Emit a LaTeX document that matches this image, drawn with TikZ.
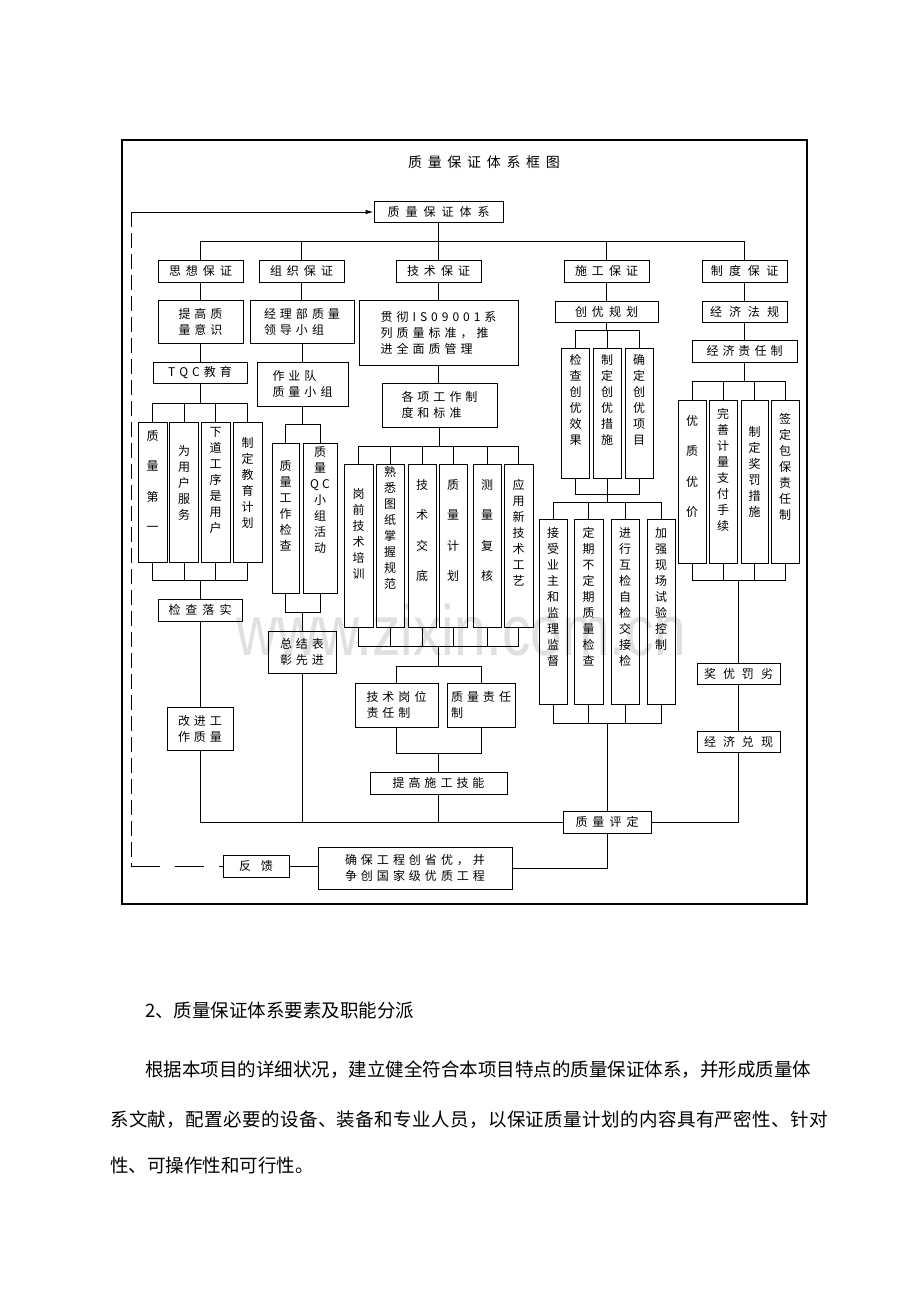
\documentclass[tikz,border=0pt]{standalone}
\usepackage{fontspec}
\newfontfamily\cjk{Noto Sans CJK SC}
\newfontfamily\wm{Liberation Sans}
\usetikzlibrary{arrows.meta}
\newlength\cjkgap
\makeatletter
\newcommand\spc[2][4pt]{{\setlength\cjkgap{#1}\spc@a#2\relax}}
\def\spc@a#1{#1\spc@b}
\def\spc@b#1{\ifx#1\relax\else\hspace{\cjkgap}#1\expandafter\spc@b\fi}
\makeatother
\tikzset{
  box/.style={draw, line width=0.9pt, inner sep=0pt, font=\cjk\fontsize{12}{16}\selectfont, align=center},
  lbox/.style={box, align=left},
  vbox/.style={draw, line width=0.9pt, inner sep=0pt},
  vtext/.style={font=\cjk\fontsize{12}{16}\selectfont, align=center, inner sep=0pt},
  wtext/.style={font=\cjk\fontsize{12}{30.5}\selectfont, align=center, inner sep=0pt},
  conn/.style={line width=0.9pt},
  ptext/.style={font=\cjk\fontsize{18.5}{20}\selectfont, anchor=west, inner sep=0pt},
}
\begin{document}
\begin{tikzpicture}[x=1pt, y=-1pt]
\useasboundingbox (0,0) rectangle (920,1302);
\fill[white] (0,0) rectangle (920,1302);
% watermark
\node[font=\wm\fontsize{57}{60}\selectfont, text=black!12, yscale=1.25, transform shape] (wmk) at (461,630) {www.zixin.com.cn};
% frame
\draw[line width=1.8pt] (122,140) rectangle (807,904);
\node[font=\cjk\fontsize{14}{16}\selectfont, inner sep=0pt] (title) at (484,162) {\spc[5.7pt]{质量保证体系框图}};
% top
\node[box, minimum width=129pt, minimum height=21pt] (top) at (438.5,211.5) {\spc[6pt]{质量保证体系}};
% level 2
\node[box, minimum width=85pt, minimum height=22pt] (sx) at (200.5,271) {\spc[5pt]{思想保证}};
\node[box, minimum width=85pt, minimum height=22pt] (zz) at (301.5,271) {\spc[5pt]{组织保证}};
\node[box, minimum width=85pt, minimum height=22pt] (js) at (438.5,271) {\spc[5pt]{技术保证}};
\node[box, minimum width=85pt, minimum height=22pt] (sg) at (606.5,271) {\spc[5pt]{施工保证}};
\node[box, minimum width=85pt, minimum height=22pt] (zd) at (744.5,271) {\spc[6.5pt]{制度保证}};
% level 3
\node[lbox, minimum width=85pt, minimum height=43pt] (tgzl) at (200.5,321.5) {\spc{提高质}\\\spc{量意识}};
\node[lbox, minimum width=104pt, minimum height=43pt] (jlb) at (302,321.5) {\spc{经理部质量}\\\spc{领导小组}};
\node[lbox, minimum width=159pt, minimum height=65pt] (gc) at (438.5,332.5) {\spc{贯彻IS09001系}\\\spc{列质量标准，推}\\\spc{进全面质管理}};
\node[box, minimum width=103pt, minimum height=21pt] (cygh) at (606.5,311.5) {\spc[5pt]{创优规划}};
\node[box, minimum width=85pt, minimum height=21pt] (jjfg) at (744.5,311.5) {\spc[7pt]{经济法规}};
\node[box, minimum width=94pt, minimum height=21pt] (tqc) at (200,372.5) {\spc{TQC教育}};
\node[lbox, minimum width=91pt, minimum height=44pt] (zyd) at (302.5,384) {\spc{作业队}\\\spc{质量小组}};
\node[box, minimum width=105pt, minimum height=22pt] (jjzr) at (744.5,351) {\spc{经济责任制}};
\node[lbox, minimum width=115pt, minimum height=44pt] (gx) at (439.5,405) {\spc{各项工作制}\\\spc{度和标准}};
% 创优 three
\node[vbox, minimum width=28pt, minimum height=130pt] (cy1) at (575.5,413) {};
\node[vbox, minimum width=28pt, minimum height=130pt] (cy2) at (607,413) {};
\node[vbox, minimum width=28pt, minimum height=130pt] (cy3) at (639,413) {};
\node[vtext] (cy1t) at ([yshift=13pt]cy1.center) {检\\查\\创\\优\\效\\果};
\node[vtext] (cy2t) at ([yshift=13pt]cy2.center) {制\\定\\创\\优\\措\\施};
\node[vtext] (cy3t) at ([yshift=13pt]cy3.center) {确\\定\\创\\优\\项\\目};
% left four
\node[vbox, minimum width=29pt, minimum height=140pt] (l1) at (152.5,492) {};
\node[vbox, minimum width=29pt, minimum height=140pt] (l2) at (184,492) {};
\node[vbox, minimum width=29pt, minimum height=140pt] (l3) at (215.5,492) {};
\node[vbox, minimum width=29pt, minimum height=140pt] (l4) at (247.5,492) {};
\node[wtext] (l1t) at ([yshift=11pt]l1.center) {质\\量\\第\\一};
\node[vtext] (l2t) at ([yshift=9pt]l2.center) {为\\用\\户\\服\\务};
\node[vtext] (l3t) at ([yshift=12pt]l3.center) {下\\道\\工\\序\\是\\用\\户};
\node[vtext] (l4t) at ([yshift=9pt]l4.center) {制\\定\\教\\育\\计\\划};
% org two
\node[vbox, minimum width=27pt, minimum height=150pt] (q1) at (285.5,518) {};
\node[vbox, minimum width=34pt, minimum height=150pt] (q2) at (320,518) {};
\node[vtext] (q1t) at ([yshift=12pt]q1.center) {质\\量\\工\\作\\检\\查};
\node[vtext] (q2t) at ([yshift=18pt]q2.center) {质\\量\\Q\hspace{3pt}C\\小\\组\\活\\动};
% tech six
\node[vbox, minimum width=29pt, minimum height=163pt] (t1) at (358.5,545.5) {};
\node[vbox, minimum width=28pt, minimum height=163pt] (t2) at (390,545.5) {};
\node[vbox, minimum width=28pt, minimum height=163pt] (t3) at (422,545.5) {};
\node[vbox, minimum width=28pt, minimum height=163pt] (t4) at (453,545.5) {};
\node[vbox, minimum width=28pt, minimum height=163pt] (t5) at (487,545.5) {};
\node[vbox, minimum width=29pt, minimum height=163pt] (t6) at (518.5,545.5) {};
\node[vtext] (t1t) at ([yshift=12pt]t1.center) {岗\\前\\技\\术\\培\\训};
\node[vtext] (t2t) at ([yshift=18pt]t2.center) {熟\\悉\\图\\纸\\掌\\握\\规\\范};
\node[wtext] (t3t) at ([yshift=15pt]t3.center) {技\\术\\交\\底};
\node[wtext] (t4t) at ([yshift=15pt]t4.center) {质\\量\\计\\划};
\node[wtext] (t5t) at ([yshift=15pt]t5.center) {测\\量\\复\\核};
\node[vtext] (t6t) at ([yshift=13pt]t6.center) {应\\用\\新\\技\\术\\工\\艺};
% construction four
\node[vbox, minimum width=28pt, minimum height=185pt] (s1) at (553,611.5) {};
\node[vbox, minimum width=29pt, minimum height=185pt] (s2) at (588.5,611.5) {};
\node[vbox, minimum width=28pt, minimum height=185pt] (s3) at (625,611.5) {};
\node[vbox, minimum width=28pt, minimum height=185pt] (s4) at (661,611.5) {};
\node[vtext, anchor=north] (s1t) at ([yshift=-9pt]s1.north) {接\\受\\业\\主\\和\\监\\理\\监\\督};
\node[vtext, anchor=north] (s2t) at ([yshift=-9pt]s2.north) {定\\期\\不\\定\\期\\质\\量\\检\\查};
\node[vtext, anchor=north] (s3t) at ([yshift=-9pt]s3.north) {进\\行\\互\\检\\自\\检\\交\\接\\检};
\node[vtext, anchor=north] (s4t) at ([yshift=-9pt]s4.north) {加\\强\\现\\场\\试\\验\\控\\制};
% system four
\node[vbox, minimum width=28pt, minimum height=163pt] (z1) at (692,481.5) {};
\node[vbox, minimum width=28pt, minimum height=163pt] (z2) at (723,481.5) {};
\node[vbox, minimum width=27pt, minimum height=163pt] (z3) at (754.5,481.5) {};
\node[vbox, minimum width=28pt, minimum height=163pt] (z4) at (785,481.5) {};
\node[wtext] (z1t) at ([yshift=15pt]z1.center) {优\\质\\优\\价};
\node[vtext] (z2t) at ([yshift=12pt]z2.center) {完\\善\\计\\量\\支\\付\\手\\续};
\node[vtext] (z3t) at ([yshift=10pt]z3.center) {制\\定\\奖\\罚\\措\\施};
\node[vtext] (z4t) at ([yshift=15pt]z4.center) {签\\定\\包\\保\\责\\任\\制};
% lower boxes
\node[box, minimum width=84pt, minimum height=22pt] (jcls) at (200,610) {\spc[5pt]{检查落实}};
\node[lbox, minimum width=68pt, minimum height=42pt] (zjbz) at (302,652) {\spc{总结表}\\\spc{彰先进}};
\node[lbox, minimum width=83pt, minimum height=44pt] (jsgw) at (396.5,705) {\spc{技术岗位}\\\spc{责任制}};
\node[lbox, minimum width=68pt, minimum height=44pt] (zlzr) at (481,705) {\spc{质量责任}\\\spc{制}};
\node[lbox, minimum width=66pt, minimum height=43pt] (gjgz) at (200,728.5) {\spc{改进工}\\\spc{作质量}};
\node[box, minimum width=83pt, minimum height=21pt] (jyfl) at (738.5,673.5) {\spc[7pt]{奖优罚劣}};
\node[box, minimum width=83pt, minimum height=21pt] (jjdx) at (738.5,741.5) {\spc[7pt]{经济兑现}};
\node[box, minimum width=137pt, minimum height=22pt] (tgsg) at (438.5,783) {\spc{提高施工技能}};
\node[box, minimum width=88pt, minimum height=22pt] (zlpd) at (607,822) {\spc[5pt]{质量评定}};
\node[box, minimum width=194pt, minimum height=42pt] (qbgc) at (415,868) {\spc{确保工程创省优，并}\\\spc{争创国家级优质工程}};
\node[box, minimum width=66pt, minimum height=22pt] (fk) at (256,866) {\spc[10pt]{反馈}};
% helper bus levels
\coordinate (b1) at (0,241);
\coordinate (b2) at (0,403);
\coordinate (b3) at (0,580);
\coordinate (b4) at (0,424);
\coordinate (b5) at (0,612);
\coordinate (b6) at (0,446);
\coordinate (b7) at (0,646);
\coordinate (b8) at (0,666);
\coordinate (b9) at (0,753);
\coordinate (b10) at (0,330);
\coordinate (b11) at (0,494);
\coordinate (b12) at (0,502);
\coordinate (b13) at (0,723);
\coordinate (b14) at (0,381);
\coordinate (bb) at (0,822);
% top tree
\draw[conn] (top.south) -- (top.south|-b1);
\draw[conn] (sx.north) -- (sx.north|-b1) -- (zd.north|-b1) -- (zd.north);
\foreach \n in {zz,js,sg} \draw[conn] (\n.north) -- (\n.north|-b1);
% left column
\draw[conn] (sx.south) -- (tgzl.north);
\draw[conn] (tgzl.south) -- (tgzl.south|-tqc.north);
\draw[conn] (tqc.south) -- (tqc.south|-b2);
\draw[conn] (l1.north) -- (l1.north|-b2) -- (l4.north|-b2) -- (l4.north);
\foreach \n in {l2,l3} \draw[conn] (\n.north) -- (\n.north|-b2);
\draw[conn] (l1.south) -- (l1.south|-b3) -- (l4.south|-b3) -- (l4.south);
\foreach \n in {l2,l3} \draw[conn] (\n.south) -- (\n.south|-b3);
\draw[conn] (jcls.north) -- (jcls.north|-b3);
\draw[conn] (jcls.south) -- (gjgz.north);
\draw[conn] (gjgz.south) -- (gjgz.south|-bb) -- (zlpd.west);
% organisation
\draw[conn] (zz.south) -- (zz.south|-jlb.north);
\draw[conn] (jlb.south) -- (jlb.south|-zyd.north);
\draw[conn] (zyd.south) -- (zyd.south|-b4);
\draw[conn] (q1.north) -- (q1.north|-b4) -- (q2.north|-b4) -- (q2.north);
\draw[conn] (q1.south) -- (q1.south|-b5) -- (q2.south|-b5) -- (q2.south);
\draw[conn] (zjbz.north) -- (zjbz.north|-b5);
\draw[conn] (zjbz.south) -- (zjbz.south|-bb);
% technique
\draw[conn] (js.south) -- (js.south|-gc.north);
\draw[conn] (gc.south) -- (gc.south|-gx.north);
\draw[conn] (gx.south) -- (gx.south|-b6);
\draw[conn] (t1.north) -- (t1.north|-b6) -- (t6.north|-b6) -- (t6.north);
\foreach \n in {t2,t3,t4,t5} \draw[conn] (\n.north) -- (\n.north|-b6);
\draw[conn] (t1.south) -- (t1.south|-b7) -- (t6.south|-b7) -- (t6.south);
\foreach \n in {t2,t3,t4,t5} \draw[conn] (\n.south) -- (\n.south|-b7);
\draw[conn] (tgsg.north|-b7) -- (tgsg.north|-b8);
\draw[conn] (jsgw.north) -- (jsgw.north|-b8) -- (zlzr.north|-b8) -- (zlzr.north);
\draw[conn] (jsgw.south) -- (jsgw.south|-b9) -- (zlzr.south|-b9) -- (zlzr.south);
\draw[conn] (tgsg.north) -- (tgsg.north|-b9);
\draw[conn] (tgsg.south) -- (tgsg.south|-bb);
% construction
\draw[conn] (sg.south) -- (sg.south|-cygh.north);
\draw[conn] (cygh.south) -- (cygh.south|-b10);
\draw[conn] (cy1.north) -- (cy1.north|-b10) -- (cy3.north|-b10) -- (cy3.north);
\draw[conn] (cy2.north) -- (cy2.north|-b10);
\draw[conn] (cy1.south) -- (cy1.south|-b11) -- (cy3.south|-b11) -- (cy3.south);
\draw[conn] (cy2.south) -- (cy2.south|-b12);
\draw[conn] (s1.north) -- (s1.north|-b12) -- (s4.north|-b12) -- (s4.north);
\foreach \n in {s2,s3} \draw[conn] (\n.north) -- (\n.north|-b12);
\draw[conn] (s1.south) -- (s1.south|-b13) -- (s4.south|-b13) -- (s4.south);
\foreach \n in {s2,s3} \draw[conn] (\n.south) -- (\n.south|-b13);
\draw[conn] (zlpd.north) -- (zlpd.north|-b13);
% system
\draw[conn] (zd.south) -- (zd.south|-jjfg.north);
\draw[conn] (jjfg.south) -- (jjfg.south|-jjzr.north);
\draw[conn] (jjzr.south) -- (jjzr.south|-b14);
\draw[conn] (z1.north) -- (z1.north|-b14) -- (z4.north|-b14) -- (z4.north);
\foreach \n in {z2,z3} \draw[conn] (\n.north) -- (\n.north|-b14);
\draw[conn] (z1.south) -- (z1.south|-b3) -- (z4.south|-b3) -- (z4.south);
\foreach \n in {z2,z3} \draw[conn] (\n.south) -- (\n.south|-b3);
\draw[conn] (jyfl.north) -- (jyfl.north|-b3);
\draw[conn] (jyfl.south) -- (jjdx.north);
\draw[conn] (jjdx.south) |- (zlpd.east);
% bottom and feedback
\draw[conn] (zlpd.south) |- (qbgc.east);
\draw[conn] (fk.east) -- (fk.east-|qbgc.west);
\coordinate (cl) at (131,866);
\coordinate (ct) at (131,212);
\draw[conn, dash pattern=on 29pt off 15pt] (cl) -- (fk.west);
\draw[conn, dash pattern=on 15pt off 6pt] (ct) -- (cl);
\draw[conn, -{Latex[length=8pt,width=4.5pt]}] (ct) -- (ct-|top.west);
% text below
\node[ptext] (h2) at (145,1010) {2、质量保证体系要素及职能分派};
\node[ptext] (p1) at (145,1070) {根据本项目的详细状况，建立健全符合本项目特点的质量保证体系，并形成质量体};
\node[ptext] (p2) at (110,1120) {\spc[0.4pt]{系文献，配置必要的设备、装备和专业人员，以保证质量计划的内容具有严密性、针对}};
\node[ptext] (p3) at (110,1165) {性、可操作性和可行性。};
\end{tikzpicture}
\end{document}
